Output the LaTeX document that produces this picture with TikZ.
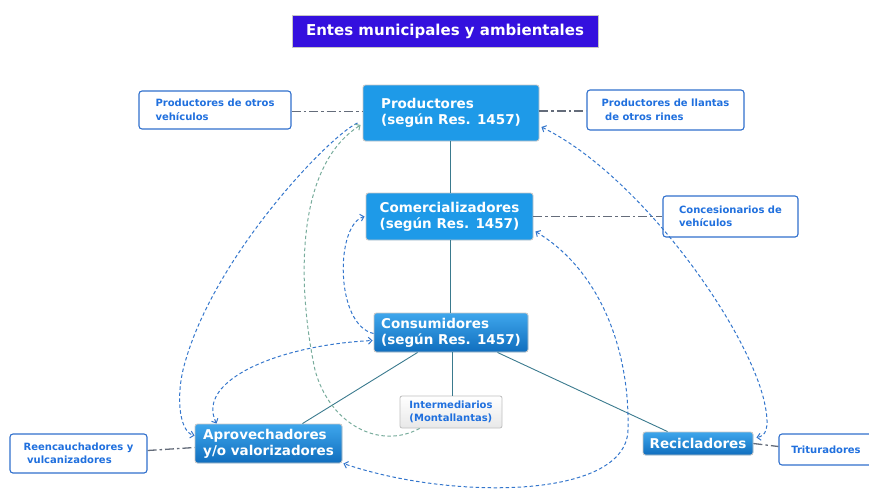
\documentclass[tikz,border=0pt]{standalone}
\usepackage{fontspec}
\setmainfont{DejaVu Sans}
\usetikzlibrary{arrows.meta,calc}
\definecolor{titlebg}{RGB}{52,16,222}
\definecolor{bigblue}{RGB}{30,154,232}
\definecolor{gradtop}{RGB}{62,166,236}
\definecolor{gradbot}{RGB}{16,110,190}
\definecolor{smallblue}{RGB}{32,112,222}
\definecolor{smallborder}{RGB}{48,112,205}
\definecolor{curveblue}{RGB}{52,118,204}
\definecolor{curvegreen}{RGB}{120,172,156}
\definecolor{linkgray}{RGB}{100,108,122}
\definecolor{solidteal}{RGB}{58,122,142}
\tikzset{
  titlebox/.style={draw=gray!45, line width=1pt, fill=titlebg, text=white,
    font=\fontsize{15}{18}\selectfont\bfseries, inner sep=0pt,
    minimum width=306pt, minimum height=32pt},
  bignode/.style={rounded corners=2.5pt, draw=gray!45, line width=0.9pt,
    fill=bigblue, text=white, font=\fontsize{13.5}{16}\selectfont\bfseries,
    align=left, inner sep=0pt},
  gradnode/.style={bignode, top color=gradtop, bottom color=gradbot},
  smallnode/.style={rounded corners=3pt, draw=smallborder, line width=1.1pt,
    fill=white, text=smallblue, font=\fontsize{10}{13.5}\selectfont\bfseries,
    align=left, inner sep=0pt},
  internode/.style={rounded corners=2pt, draw=gray!50, line width=0.8pt,
    top color=white, bottom color=gray!18, text=smallblue,
    font=\fontsize{10}{12.5}\selectfont\bfseries, align=left, inner sep=0pt},
  dashdot/.style={draw=linkgray, line width=1.3pt,
    dash pattern=on 9pt off 3pt on 2.5pt off 3pt},
  solidlink/.style={draw=solidteal, line width=0.9pt},
  bluecurve/.style={draw=curveblue, line width=1pt, dash pattern=on 3.5pt off 2.5pt},
  greencurve/.style={draw=curvegreen, line width=1pt, dash pattern=on 3.5pt off 2.5pt},
  endtip/.style={-{Straight Barb[length=3.5pt,width=7pt]}},
  bothtip/.style={{Straight Barb[length=3.5pt,width=7pt]}-{Straight Barb[length=3.5pt,width=7pt]}}
}
\begin{document}
\begin{tikzpicture}[x=1pt,y=-1pt]
\useasboundingbox (0,0) rectangle (869,491);

% nodes
\node[titlebox] (title) at (445,31) {Entes municipales y ambientales};
\node[bignode, minimum width=176pt, minimum height=56pt] (prod) at (451,113)
  {Productores\\(según Res. 1457)};
\node[bignode, minimum width=167pt, minimum height=47pt] (comer) at (449.5,216.5)
  {Comercializadores\\(según Res. 1457)};
\node[gradnode, minimum width=154pt, minimum height=39pt] (cons) at (451,332.5)
  {Consumidores\\(según Res. 1457)};
\node[gradnode, minimum width=147pt, minimum height=39pt] (aprov) at (268.5,443.5)
  {Aprovechadores\\y/o valorizadores};
\node[gradnode, minimum width=110pt, minimum height=23pt] (recic) at (698,443.5)
  {Recicladores};
\node[internode, minimum width=102pt, minimum height=32pt] (inter) at (451,412)
  {Intermediarios\\(Montallantas)};
\node[smallnode, minimum width=152pt, minimum height=38pt] (pov) at (215,110)
  {Productores de otros\\vehículos};
\node[smallnode, minimum width=157pt, minimum height=40pt] (pll) at (665.5,110)
  {Productores de llantas\\\ de otros rines};
\node[smallnode, minimum width=135pt, minimum height=41pt] (conc) at (730.5,216.5)
  {Concesionarios de\\vehículos};
\node[smallnode, minimum width=137pt, minimum height=39pt] (reen) at (78.5,453.5)
  {Reencauchadores y\\\ vulcanizadores};
\node[smallnode, minimum width=94pt, minimum height=31pt] (trit) at (826,449.5)
  {Trituradores};

% dash-dot links
\draw[dashdot] ($(pov.east)+(0,1.5)$) -- ($(prod.west)+(0,-1.5)$);
\draw[dashdot] ($(prod.east)+(0,-2)$) -- ($(pll.west)+(0,1)$);
\draw[dashdot] (comer.east) -- (conc.west);
\draw[dashdot] ($(reen.east)+(0,-3)$) -- ($(aprov.west)+(0,4)$);
\draw[dashdot] (recic.east) -- ($(trit.west)+(0,-3)$);

% solid links
\draw[solidlink] ($(prod.south)+(-1,0)$) -- ($(comer.north)+(0.5,0)$);
\draw[solidlink] ($(comer.south)+(0.5,0)$) -- ($(cons.north)+(-1,0)$);
\draw[solidlink] ($(cons.south west)+(44,0)$) -- ($(aprov.north east)+(-40,0)$);
\draw[solidlink] ($(cons.south)+(1,0)$) -- ($(inter.north)+(1,0)$);
\draw[solidlink] ($(cons.south east)+(-31,0)$) -- ($(recic.north west)+(25,0)$);

% dashed curves
\draw[bluecurve, endtip] ($(prod.west)+(-5,10)$)
  .. controls (330,135) and (210,260) .. (183,370)
  .. controls (176,400) and (180,432) .. ($(aprov.west)+(0,-8)$);
\draw[greencurve, endtip] ($(inter.south west)+(20,0)$)
  .. controls (380,450) and (330,425) .. (315,370)
  .. controls (300,300) and (290,170) .. ($(prod.west)+(-2,12)$);
\draw[bluecurve, endtip] ($(cons.west)+(0,1)$)
  .. controls (335,325) and (335,225) .. ($(comer.west)+(-1,0)$);
\draw[bluecurve, bothtip] ($(aprov.north west)+(22,0)$)
  .. controls (195,380) and (280,345) .. ($(cons.west)+(-1,8)$);
\draw[bluecurve, bothtip] ($(comer.east)+(2,15)$)
  .. controls (600,270) and (630,350) .. (628,430)
  .. controls (626,500) and (450,500) .. ($(aprov.east)+(1,20)$);
\draw[bluecurve, bothtip] ($(prod.east)+(2,14)$)
  .. controls (640,175) and (750,330) .. (765,405)
  .. controls (770,430) and (765,436) .. ($(recic.east)+(3,-6)$);
\end{tikzpicture}
\end{document}
